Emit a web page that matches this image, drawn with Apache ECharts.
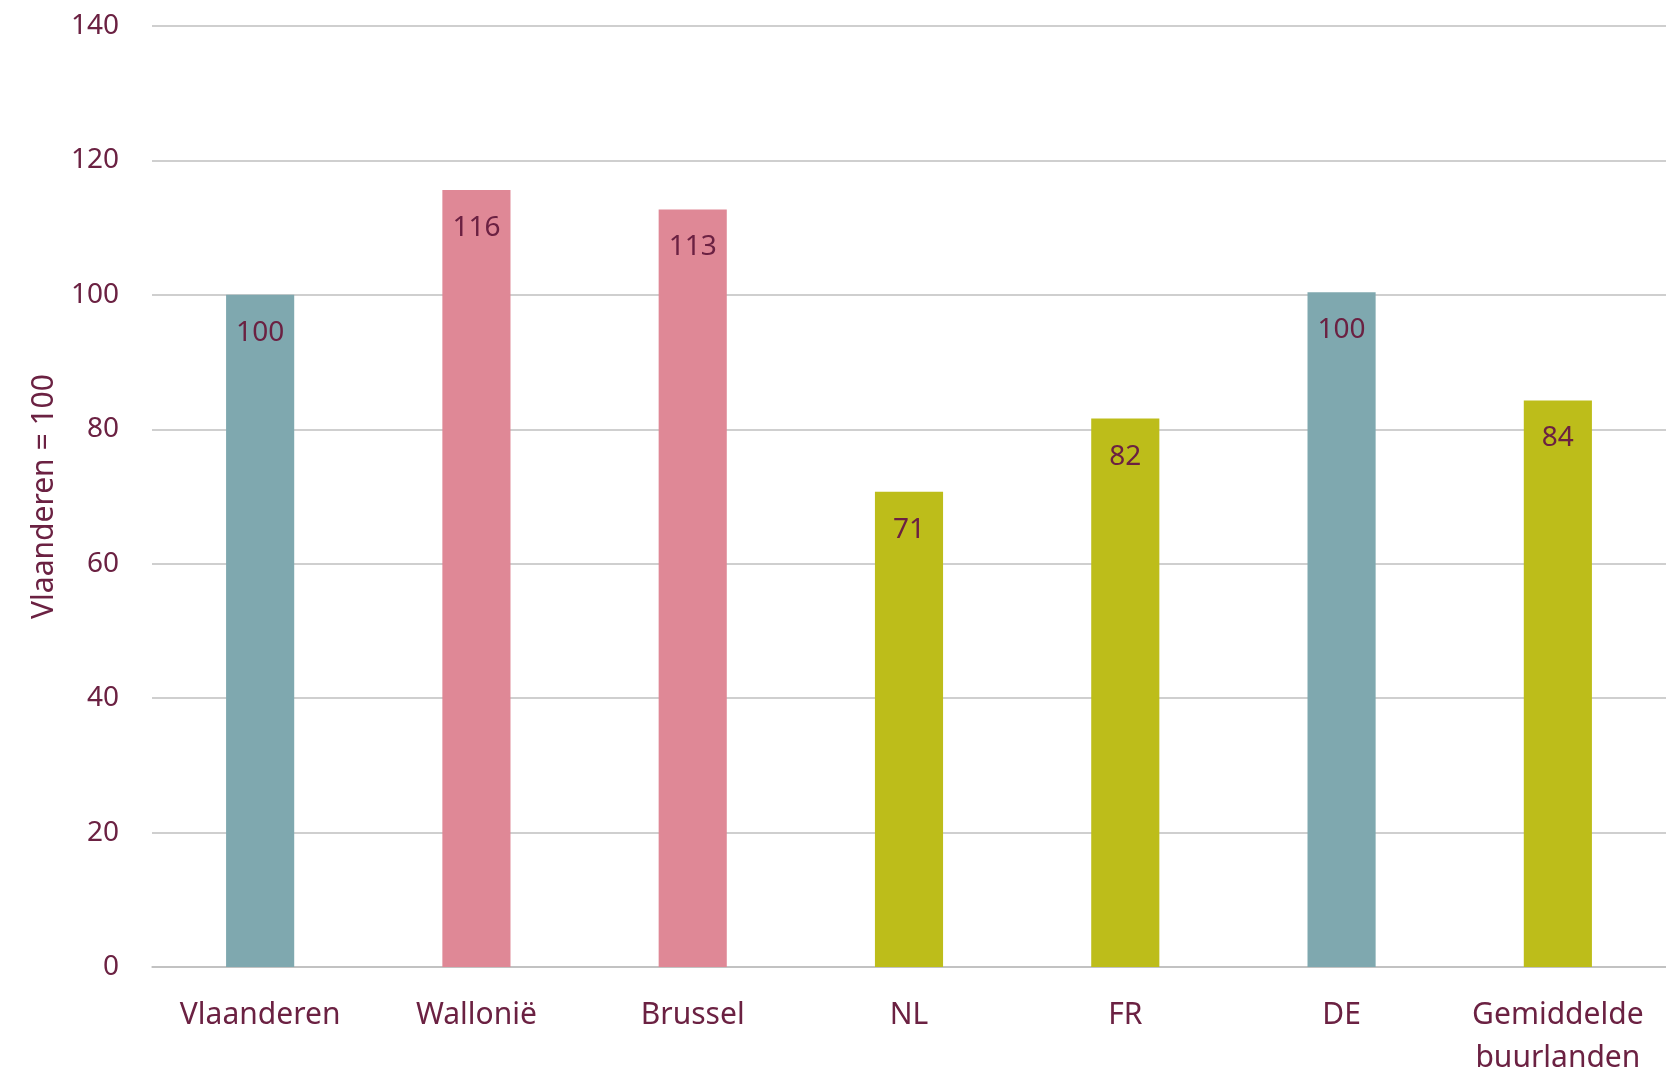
<!DOCTYPE html>
<html>
<head>
<meta charset="utf-8">
<script src="https://cdn.jsdelivr.net/npm/echarts@6/dist/echarts.min.js"></script>
<style>
  html, body { margin: 0; padding: 0; background: #fff; }
  #chart { width: 1666px; height: 1070px; }
</style>
</head>
<body>
<div id="chart"></div>
<script>
// categorieën en waarden (Vlaanderen = 100)
const categories = ['Vlaanderen', 'Wallonië', 'Brussel', 'NL', 'FR', 'DE', 'Gemiddelde\nbuurlanden'];
const values = [100, 115.6, 112.7, 70.7, 81.6, 100.4, 84.3];
const barColors = ['#7FA8AF', '#DF8896', '#DF8896', '#BDBD1A', '#BDBD1A', '#7FA8AF', '#BDBD1A'];
const yTicks = [0, 20, 40, 60, 80, 100, 120, 140];

const textColor = '#6B2142';
const fontFamily = '"Noto Sans", sans-serif';

const chart = echarts.init(document.getElementById('chart'));

const option = {
  animation: false,
  textStyle: { fontFamily: fontFamily, color: textColor },
  grid: { left: 152, right: 0, top: 26, bottom: 103, outerBoundsMode: 'none', containLabel: false },
  xAxis: {
    type: 'category',
    data: categories,
    axisTick: { show: false },
    axisLine: { lineStyle: { color: '#BFBFBF', width: 1.5 } },
    axisLabel: { interval: 0, color: textColor, fontSize: 30, margin: 27, lineHeight: 43, fontFamily: fontFamily }
  },
  yAxis: {
    type: 'value',
    min: yTicks[0],
    max: yTicks[yTicks.length - 1],
    interval: 20,
    name: 'Vlaanderen = 100',
    nameLocation: 'middle',
    nameGap: 93,
    nameTextStyle: { color: textColor, fontSize: 30, fontFamily: fontFamily },
    axisLabel: { color: textColor, fontSize: 28, margin: 33, fontFamily: fontFamily },
    splitLine: { lineStyle: { color: '#BFBFBF', width: 1.5 } }
  },
  series: [{
    type: 'bar',
    data: values.map((v, i) => ({ value: v, itemStyle: { color: barColors[i] } })),
    barWidth: '31.5%',
    label: {
      show: true,
      position: 'insideTop',
      distance: 24,
      color: textColor,
      fontSize: 28,
      fontFamily: fontFamily,
      formatter: p => Math.round(p.value)
    }
  }]
};

chart.setOption(option);
</script>
</body>
</html>
